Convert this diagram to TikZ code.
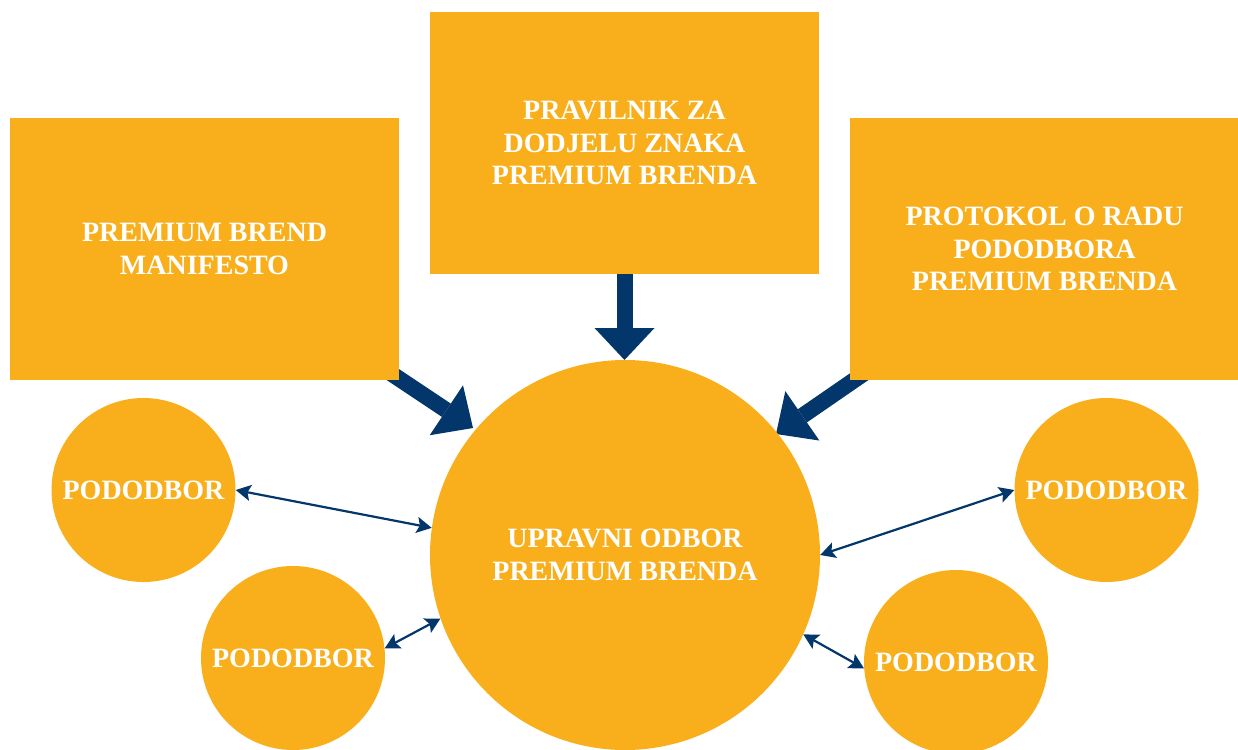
\documentclass[tikz,border=0pt]{standalone}
\usepackage{fontspec}
\setmainfont{Liberation Serif}
\usetikzlibrary{arrows.meta,backgrounds}

\definecolor{pbgold}{HTML}{F9AF1B}
\definecolor{pbnavy}{HTML}{03376B}

\tikzset{
    pbtext/.style={text=white,font=\bfseries\fontsize{28}{32.5}\selectfont,align=center},
    docbox/.style={pbtext,rectangle,fill=pbgold,minimum width=389pt,minimum height=262pt,inner sep=0pt},
    board/.style={pbtext,circle,fill=pbgold,minimum size=390pt,inner sep=0pt},
    subboard/.style={pbtext,circle,fill=pbgold,minimum size=184pt,inner sep=0pt},
    bigarrow/.style={draw=pbnavy,line width=16pt,-{Triangle[length=32pt,width=60pt,line width=0pt]}},
    thinlink/.style={draw=pbnavy,line width=2.2pt,{Stealth[length=15pt,width=16pt,inset=3pt]}-{Stealth[length=15pt,width=16pt,inset=3pt]}}
}

\begin{document}
\begin{tikzpicture}[x=1pt,y=-1pt]
\useasboundingbox (0,0) rectangle (1238,749);

\begin{scope}[every node/.style={docbox}]
    \node (manifest) at (204.5, 249) {PREMIUM BREND\\MANIFESTO};
    \node (rules) at (624.5, 143) {PRAVILNIK ZA\\DODJELU ZNAKA\\PREMIUM BRENDA};
    \node (protocol) at (1044.5, 249) {PROTOKOL O RADU\\PODODBORA\\PREMIUM BRENDA};
\end{scope}

\node[board] (upravni) at (625, 555) {UPRAVNI ODBOR\\PREMIUM BRENDA};

\begin{scope}[every node/.style={subboard}]
    \node (sub1) at (143.5, 490) {PODODBOR};
    \node (sub2) at (293, 658) {PODODBOR};
    \node (sub3) at (1106.5, 490) {PODODBOR};
    \node (sub4) at (956, 662) {PODODBOR};
\end{scope}

\coordinate (tipL) at (473, 428);
\coordinate (tipM) at (624.5, 360);
\coordinate (tipR) at (776, 434);

\begin{scope}[on background layer]
    \draw [bigarrow] (manifest.center) -- (tipL);
    \draw [bigarrow] (rules.center) -- (tipM);
    \draw [bigarrow] (protocol.center) -- (tipR);
\end{scope}

\begin{scope}[thinlink]
    \path (sub1.0) edge (upravni.172);
    \path (sub2.6) edge (upravni.199);
    \path (upravni.0) edge (sub3.180);
    \path (upravni.-24) edge (sub4.184);
\end{scope}

\end{tikzpicture}
\end{document}
